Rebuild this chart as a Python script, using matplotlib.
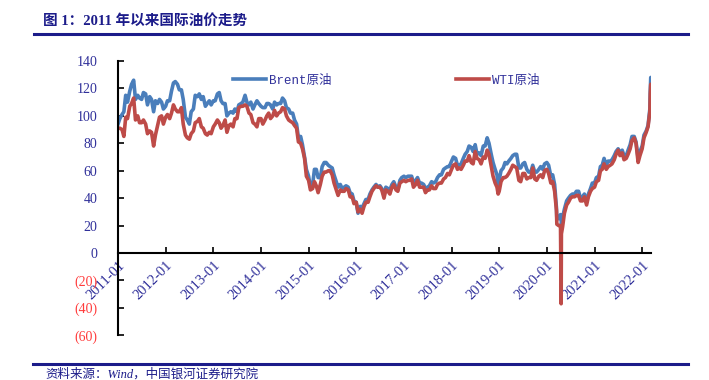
import matplotlib
matplotlib.use('Agg')
import matplotlib.pyplot as plt
import pandas as pd
import numpy as np

# semi-monthly readings (1st and 15th of each month), USD/bbl
brent_2011 = [94, 98, 101, 103, 115, 110, 118, 123, 126, 112, 115, 113, 112, 117, 116, 108, 114, 112, 103, 111, 109, 112, 110, 105]
brent_2012 = [107, 111, 111, 118, 124, 125, 123, 119, 119, 112, 99, 97, 94, 103, 105, 115, 114, 116, 112, 114, 107, 109, 111, 108]
brent_2013 = [111, 111, 116, 117, 111, 109, 109, 100, 102, 103, 102, 105, 103, 108, 109, 110, 115, 110, 108, 110, 105, 108, 111, 109]
brent_2014 = [107, 106, 106, 109, 109, 108, 105, 110, 108, 109, 109, 113, 111, 106, 105, 102, 102, 97, 94, 84, 85, 79, 70, 61]
brent_2015 = [56, 48, 50, 61, 61, 55, 55, 63, 66, 66, 64, 63, 62, 57, 52, 48, 50, 47, 48, 49, 48, 44, 43, 38]
brent_2016 = [37, 29, 34, 33, 36, 39, 39, 43, 46, 48, 50, 48, 49, 47, 42, 48, 47, 46, 50, 52, 48, 46, 53, 55]
brent_2017 = [56, 55, 56, 56, 56, 51, 53, 55, 51, 51, 50, 47, 48, 49, 52, 51, 52, 55, 57, 57, 61, 62, 63, 63]
brent_2018 = [67, 70, 69, 64, 64, 65, 69, 72, 74, 78, 77, 74, 79, 72, 73, 71, 78, 78, 84, 80, 72, 66, 61, 57]
brent_2019 = [53, 60, 62, 66, 65, 67, 69, 71, 72, 72, 62, 62, 65, 66, 61, 59, 59, 64, 59, 59, 61, 63, 61, 65]
brent_2020 = [66, 64, 56, 57, 50, 33, 25, 28, 26, 32, 38, 40, 42, 43, 43, 45, 45, 40, 41, 43, 37, 43, 47, 51]
brent_2021 = [51, 55, 56, 63, 64, 69, 64, 67, 67, 68, 71, 74, 76, 73, 75, 71, 71, 75, 79, 85, 85, 81, 69, 74]
brent_2022 = [78, 86, 89, 93, 105]

wti_2011 = [91, 91, 90, 85, 99, 98, 107, 109, 113, 97, 100, 95, 95, 97, 94, 87, 89, 88, 78, 86, 93, 99, 100, 94]
wti_2012 = [99, 101, 98, 102, 108, 105, 103, 103, 106, 94, 86, 84, 83, 87, 89, 95, 96, 98, 92, 91, 87, 86, 88, 87]
wti_2013 = [92, 94, 97, 95, 91, 93, 97, 88, 93, 94, 92, 98, 98, 106, 107, 107, 108, 107, 102, 101, 95, 94, 92, 98]
wti_2014 = [98, 94, 97, 100, 102, 98, 100, 104, 100, 102, 103, 106, 105, 100, 97, 96, 95, 93, 91, 81, 80, 76, 69, 56]
wti_2015 = [53, 46, 47, 52, 49, 44, 50, 56, 59, 59, 60, 60, 57, 51, 46, 42, 46, 45, 45, 47, 46, 41, 41, 36]
wti_2016 = [37, 30, 32, 29, 34, 37, 37, 41, 45, 47, 49, 48, 48, 46, 40, 46, 45, 43, 48, 50, 46, 45, 51, 52]
wti_2017 = [53, 52, 53, 53, 54, 48, 50, 53, 48, 48, 48, 44, 46, 46, 49, 47, 47, 50, 51, 51, 54, 55, 58, 57]
wti_2018 = [61, 64, 65, 61, 62, 61, 64, 67, 67, 71, 66, 65, 74, 69, 68, 65, 70, 69, 75, 72, 63, 56, 51, 48]
wti_2019 = [45, 52, 55, 55, 56, 58, 61, 64, 63, 62, 53, 52, 58, 58, 54, 55, 55, 62, 54, 53, 56, 57, 55, 60]
wti_2020 = [61, 58, 51, 52, 45, 31, 20, 20, 19, 29, 35, 37, 40, 41, 41, 42, 42, 38, 38, 41, 35, 41, 45, 47]
wti_2021 = [48, 52, 53, 60, 61, 65, 61, 63, 64, 65, 68, 72, 75, 71, 73, 68, 69, 72, 76, 82, 84, 80, 66, 71]
wti_2022 = [76, 84, 88, 92, 103]

# single days that the half-month grid misses
event_dates = ['2018-12-24', '2020-03-18', '2020-04-20', '2020-04-22', '2022-03-04', '2022-03-08', '2022-03-09']
event_brent = [50, 25, 26, 20, 118, 128, 111]
event_wti = [43, 21, -37, 14, 116, 123, 108]

legend_labels = ['Brent原油', 'WTI原油']
title_text = '图 1：2011 年以来国际油价走势'
source_text = '资料来源：Wind，中国银河证券研究院'


def build_series(year_lists, ev_vals):
    dates, vals = [], []
    for i, vlist in enumerate(year_lists):
        year = 2011 + i
        for j, v in enumerate(vlist):
            month = j // 2 + 1
            day = 1 if j % 2 == 0 else 15
            dates.append(pd.Timestamp(year, month, day))
            vals.append(v)
    dates += [pd.Timestamp(d) for d in event_dates]
    vals += ev_vals
    s = pd.Series(vals, index=dates).sort_index()
    return s


brent = build_series([brent_2011, brent_2012, brent_2013, brent_2014, brent_2015, brent_2016,
                      brent_2017, brent_2018, brent_2019, brent_2020, brent_2021, brent_2022], event_brent)
wti = build_series([wti_2011, wti_2012, wti_2013, wti_2014, wti_2015, wti_2016,
                    wti_2017, wti_2018, wti_2019, wti_2020, wti_2021, wti_2022], event_wti)

navy = '#1c1c8a'
label_blue = '#30309a'
serif = ['Liberation Serif', 'Noto Sans CJK SC']
mono = ['Liberation Mono', 'Noto Sans CJK SC']

fig = plt.figure(figsize=(7.09, 3.80), dpi=100)
ax = fig.add_axes([118 / 709, 1 - 335.3 / 380, (650.9 - 118) / 709, (335.3 - 61) / 380])

l1, = ax.plot(brent.index, brent.values, color='#4a7ebb', lw=2.6, label=legend_labels[0])
l2, = ax.plot(wti.index, wti.values, color='#be4b48', lw=2.6, label=legend_labels[1])

ax.set_xlim(pd.Timestamp('2011-01-01'), pd.Timestamp('2022-03-09'))
ax.set_ylim(-60, 140)

ax.spines['top'].set_visible(False)
ax.spines['right'].set_visible(False)
ax.spines['bottom'].set_position(('data', 0))
ax.spines['left'].set_linewidth(1.5)
ax.spines['bottom'].set_linewidth(1.5)

yticks = np.arange(-60, 141, 20)
ax.set_yticks(yticks)
ax.set_yticklabels([str(v) if v >= 0 else '(%d)' % -v for v in yticks])
for t, v in zip(ax.get_yticklabels(), yticks):
    t.set_color(label_blue if v >= 0 else '#ff3b3b')
    t.set_family(serif)
    t.set_fontsize(10)

xt = [pd.Timestamp(y, 1, 1) for y in range(2011, 2023)]
ax.set_xticks(xt)
ax.set_xticklabels([d.strftime('%Y-%m') for d in xt], rotation=45, ha='right', va='top',
                   rotation_mode='anchor', color=label_blue, family=serif, fontsize=10.5)
ax.tick_params(axis='x', direction='in', length=4, width=1.2, pad=4)
ax.tick_params(axis='y', direction='in', length=4, width=1.2, pad=15)

leg1 = ax.legend(handles=[l1], loc='center left', bbox_to_anchor=(233 / 709, 1 - 80.7 / 380),
                 bbox_transform=fig.transFigure, frameon=False, borderpad=0, borderaxespad=0,
                 handlelength=2.6, handletextpad=0.3, prop={'family': mono, 'size': 9})
for t in leg1.get_texts():
    t.set_color(label_blue)
ax.add_artist(leg1)
leg2 = ax.legend(handles=[l2], loc='center left', bbox_to_anchor=(456 / 709, 1 - 80.7 / 380),
                 bbox_transform=fig.transFigure, frameon=False, borderpad=0, borderaxespad=0,
                 handlelength=2.6, handletextpad=0.3, prop={'family': mono, 'size': 9})
for t in leg2.get_texts():
    t.set_color(label_blue)

# header and footer
fig.text(43 / 709, 1 - 21 / 380, title_text, color=navy, fontsize=10.5, fontweight='bold',
         family=serif, ha='left', va='center')
fig.add_artist(plt.Line2D([34 / 709, 688 / 709], [1 - 34 / 380, 1 - 34 / 380], color=navy, lw=2.2))
fig.add_artist(plt.Line2D([33 / 709, 688 / 709], [1 - 364 / 380, 1 - 364 / 380], color=navy, lw=2.2))
fig.text(45 / 709, 1 - 374 / 380, source_text, color=navy, fontsize=9, style='italic',
         family=serif, ha='left', va='center')

fig.savefig('out.png', dpi=100)
